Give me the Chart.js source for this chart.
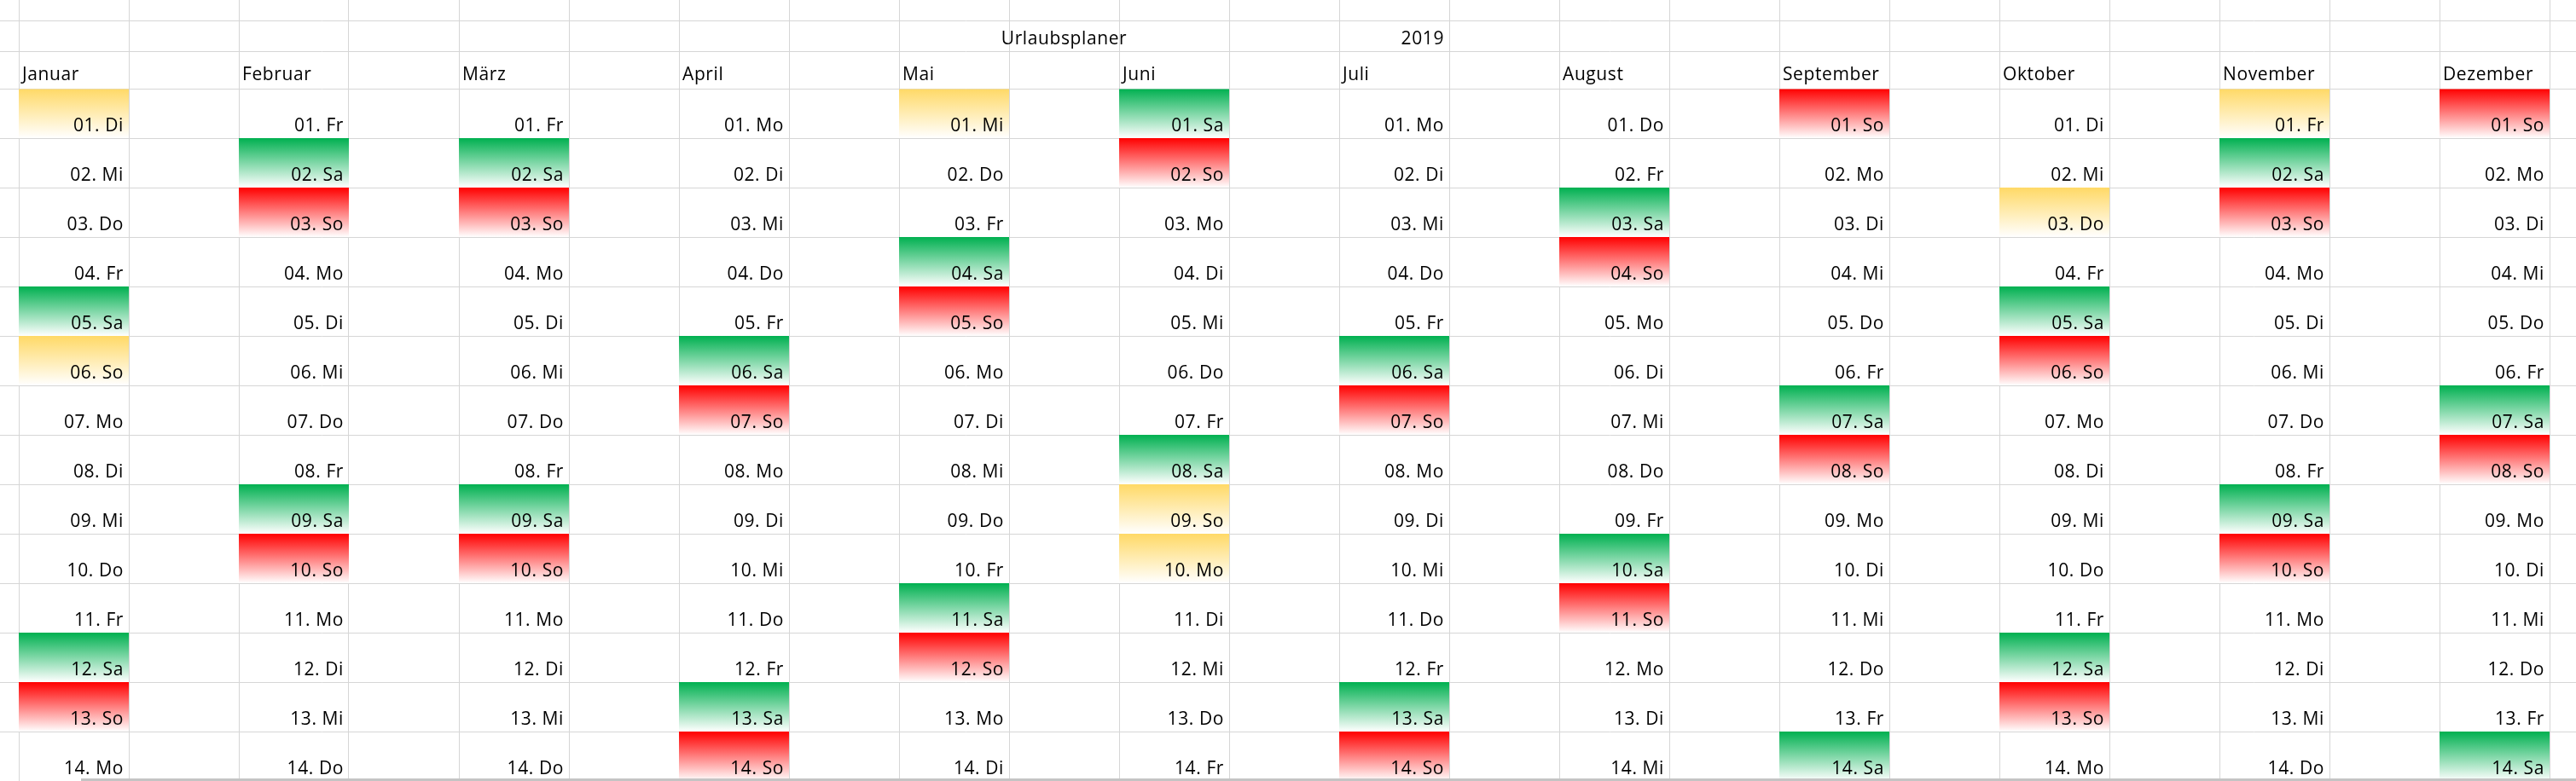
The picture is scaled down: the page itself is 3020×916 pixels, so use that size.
<!DOCTYPE html>
<html lang="de">
<head>
<meta charset="UTF-8">
<title>Urlaubsplaner 2019</title>
<script src="https://cdn.jsdelivr.net/npm/chart.js@4.4.1/dist/chart.umd.min.js"></script>
<style>
    html, body {
        margin: 0;
        padding: 0;
        background: #ffffff;
        overflow: hidden;
    }
    #planer {
        display: block;
    }
</style>
</head>
<body>
<canvas id="planer" width="3020" height="916"></canvas>
<script>
// Daten
const TITLE = 'Urlaubsplaner';
const YEAR = '2019';
const MONTHS = ['Januar', 'Februar', 'März', 'April', 'Mai', 'Juni',
                'Juli', 'August', 'September', 'Oktober', 'November', 'Dezember'];
const DAYS = ['01', '02', '03', '04', '05', '06', '07', '08', '09', '10', '11', '12', '13', '14'];
const WEEKDAYS = [
    ['Di', 'Mi', 'Do', 'Fr', 'Sa', 'So', 'Mo', 'Di', 'Mi', 'Do', 'Fr', 'Sa', 'So', 'Mo'], // Januar
    ['Fr', 'Sa', 'So', 'Mo', 'Di', 'Mi', 'Do', 'Fr', 'Sa', 'So', 'Mo', 'Di', 'Mi', 'Do'], // Februar
    ['Fr', 'Sa', 'So', 'Mo', 'Di', 'Mi', 'Do', 'Fr', 'Sa', 'So', 'Mo', 'Di', 'Mi', 'Do'], // März
    ['Mo', 'Di', 'Mi', 'Do', 'Fr', 'Sa', 'So', 'Mo', 'Di', 'Mi', 'Do', 'Fr', 'Sa', 'So'], // April
    ['Mi', 'Do', 'Fr', 'Sa', 'So', 'Mo', 'Di', 'Mi', 'Do', 'Fr', 'Sa', 'So', 'Mo', 'Di'], // Mai
    ['Sa', 'So', 'Mo', 'Di', 'Mi', 'Do', 'Fr', 'Sa', 'So', 'Mo', 'Di', 'Mi', 'Do', 'Fr'], // Juni
    ['Mo', 'Di', 'Mi', 'Do', 'Fr', 'Sa', 'So', 'Mo', 'Di', 'Mi', 'Do', 'Fr', 'Sa', 'So'], // Juli
    ['Do', 'Fr', 'Sa', 'So', 'Mo', 'Di', 'Mi', 'Do', 'Fr', 'Sa', 'So', 'Mo', 'Di', 'Mi'], // August
    ['So', 'Mo', 'Di', 'Mi', 'Do', 'Fr', 'Sa', 'So', 'Mo', 'Di', 'Mi', 'Do', 'Fr', 'Sa'], // September
    ['Di', 'Mi', 'Do', 'Fr', 'Sa', 'So', 'Mo', 'Di', 'Mi', 'Do', 'Fr', 'Sa', 'So', 'Mo'], // Oktober
    ['Fr', 'Sa', 'So', 'Mo', 'Di', 'Mi', 'Do', 'Fr', 'Sa', 'So', 'Mo', 'Di', 'Mi', 'Do'], // November
    ['So', 'Mo', 'Di', 'Mi', 'Do', 'Fr', 'Sa', 'So', 'Mo', 'Di', 'Mi', 'Do', 'Fr', 'Sa']  // Dezember
];
// Feiertage (gelb) je Monat, Tag im Monat
const HOLIDAYS = [[1, 6], [], [], [], [1], [9, 10], [], [], [], [3], [1], []];

// Layout wie im Excel-Blatt (Pixel)
const W = 3020, H = 916;
const COL_W = 129, LEFT_OFF = 22;
const HEAD_ROWS = [25, 35, 44];   // leer, Titel, Monatsnamen
const ROW_H = 58;
const GRID = '#d6d6d6';
const FONT = '500 21px "Open Sans", sans-serif';
const COLORS = { holiday: '#ffd966', sat: '#00b050', sun: '#ff0000' };

const X_MIN = -LEFT_OFF / COL_W;
const X_MAX = X_MIN + W / COL_W;
const headTotal = HEAD_ROWS.reduce((a, b) => a + b, 0);
const Y_MIN = -headTotal / ROW_H;
const Y_MAX = Y_MIN + H / ROW_H;
const TITLE_BOTTOM = -HEAD_ROWS[2] / ROW_H;   // Unterkante Titelzeile
const EMPTY_BOTTOM = Y_MIN + HEAD_ROWS[0] / ROW_H;

const colLines = [];
for (let c = 0; c <= Math.floor(X_MAX); c++) colLines.push(c);
const rowLines = [EMPTY_BOTTOM, TITLE_BOTTOM];
for (let r = 0; r <= DAYS.length; r++) rowLines.push(r);

const isHoliday = (mi, di) => HOLIDAYS[mi].includes(di + 1);

function cellsOf(test) {
    const cells = [];
    MONTHS.forEach((m, mi) => {
        WEEKDAYS[mi].forEach((wd, di) => {
            if (test(mi, di, wd)) cells.push({ x: mi * 2 + 0.5, y: [di, di + 1] });
        });
    });
    return cells;
}

// Verlauf von Farbe (oben) nach Weiß (unten), wie Excel-Zellfüllung
function fade(color) {
    return function(ctx) {
        if (ctx.type !== 'data' || !ctx.raw) return color;
        const y = ctx.chart.scales.y;
        if (!y) return color;
        const top = y.getPixelForValue(ctx.raw.y[0]);
        const bottom = y.getPixelForValue(ctx.raw.y[1]);
        if (!isFinite(top) || !isFinite(bottom)) return color;
        const g = ctx.chart.ctx.createLinearGradient(0, top, 0, bottom);
        g.addColorStop(0, color);
        g.addColorStop(1, '#ffffff');
        return g;
    };
}

// Texte der Tabelle
const sheetText = {
    id: 'sheetText',
    afterDatasetsDraw(chart) {
        const { ctx, scales: { x, y } } = chart;
        ctx.save();
        ctx.fillStyle = '#000000';
        ctx.font = FONT;
        if ('letterSpacing' in ctx) ctx.letterSpacing = '0.6px';
        ctx.textBaseline = 'alphabetic';

        // Titel und Jahr
        ctx.textAlign = 'center';
        ctx.fillText(TITLE, x.getPixelForValue(9.5), y.getPixelForValue(TITLE_BOTTOM) - 8);
        ctx.textAlign = 'right';
        ctx.fillText(YEAR, x.getPixelForValue(13) - 6, y.getPixelForValue(TITLE_BOTTOM) - 8);

        // Monatsnamen
        ctx.textAlign = 'left';
        MONTHS.forEach((m, mi) => {
            ctx.fillText(m, x.getPixelForValue(mi * 2) + 4, y.getPixelForValue(0) - 10);
        });

        // Tage
        ctx.textAlign = 'right';
        MONTHS.forEach((m, mi) => {
            WEEKDAYS[mi].forEach((wd, di) => {
                ctx.fillText(DAYS[di] + '. ' + wd,
                    x.getPixelForValue(mi * 2 + 1) - 6,
                    y.getPixelForValue(di + 1) - 8);
            });
        });
        ctx.restore();
    },
    afterDraw(chart) {
        // Rand der Blattregister unten
        const { ctx, chartArea } = chart;
        ctx.save();
        ctx.fillStyle = '#c4c4c4';
        ctx.fillRect(95, chartArea.bottom - 3, chartArea.right - 95, 3);
        ctx.restore();
    }
};

new Chart(document.getElementById('planer'), {
    type: 'bar',
    data: {
        datasets: [
            {
                label: 'Feiertag',
                data: cellsOf((mi, di) => isHoliday(mi, di)),
                backgroundColor: fade(COLORS.holiday)
            },
            {
                label: 'Samstag',
                data: cellsOf((mi, di, wd) => !isHoliday(mi, di) && wd === 'Sa'),
                backgroundColor: fade(COLORS.sat)
            },
            {
                label: 'Sonntag',
                data: cellsOf((mi, di, wd) => !isHoliday(mi, di) && wd === 'So'),
                backgroundColor: fade(COLORS.sun)
            }
        ]
    },
    options: {
        responsive: false,
        devicePixelRatio: 1,
        animation: false,
        events: [],
        layout: { padding: 0 },
        datasets: {
            bar: {
                grouped: false,
                barPercentage: 1,
                categoryPercentage: 1,
                borderWidth: 0,
                inflateAmount: 0
            }
        },
        plugins: {
            legend: { display: false },
            tooltip: { enabled: false }
        },
        scales: {
            x: {
                type: 'linear',
                position: 'top',
                min: X_MIN,
                max: X_MAX,
                offset: false,
                afterBuildTicks: function(scale) {
                    scale.ticks = colLines.map(v => ({ value: v }));
                },
                ticks: { display: false },
                grid: { color: GRID, lineWidth: 1, drawTicks: false, offset: false },
                border: { display: false }
            },
            y: {
                type: 'linear',
                reverse: true,
                min: Y_MIN,
                max: Y_MAX,
                afterBuildTicks: function(scale) {
                    scale.ticks = rowLines.map(v => ({ value: v }));
                },
                ticks: { display: false },
                grid: { color: GRID, lineWidth: 1, drawTicks: false },
                border: { display: false }
            }
        }
    },
    plugins: [sheetText]
});
</script>
</body>
</html>
